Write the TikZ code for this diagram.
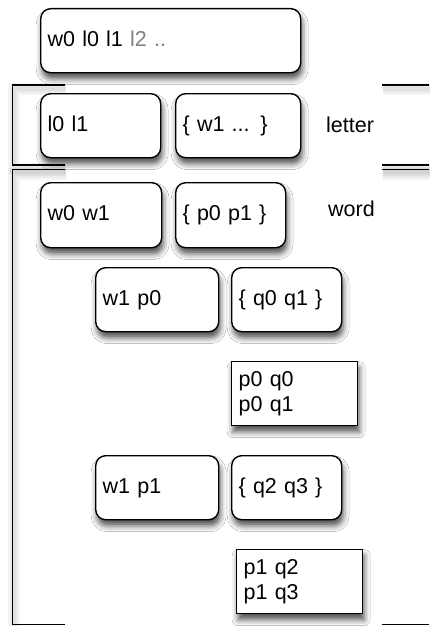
\documentclass[tikz,border=0pt]{standalone}
\usepackage{fontspec}
\setmainfont{Liberation Sans}
\usetikzlibrary{shadows.blur}
\tikzset{
  basebox/.style={draw=black, line width=1.4pt, fill=white, anchor=north west,
    inner xsep=7pt, inner ysep=0pt, align=left,
    font=\fontsize{21.5}{25}\selectfont,
    blur shadow={shadow xshift=1.5pt, shadow yshift=-6pt, shadow blur radius=6pt, shadow opacity=70}},
  rbox/.style={basebox, rounded corners=10pt, execute at begin node={\rule[-4.6pt]{0pt}{20pt}}},
  sbox/.style={basebox},
  lbl/.style={anchor=west, inner sep=0pt, font=\fontsize{21.5}{25}\selectfont},
  bracket/.style={draw=black, line width=1.4pt},
  bshadow/.style={draw=black, line width=7pt, opacity=0.04, yshift=-4pt, xshift=1pt}
}
\newcommand{\mkbox}[7]{%
  \node[#1, minimum width={#4-#2}, minimum height={#5-#3}, text width={#4-#2-14}] (#6) at (#2,#3) {#7};}
\begin{document}
\begin{tikzpicture}[x=1pt, y=-1pt]
\useasboundingbox (0,0) rectangle (429,626);
\fill[white] (0,0) rectangle (429,626);
% bracket shadows
\foreach \w in {4,8,12}{
  \draw[bshadow, line width=\w pt] (65,85) -- (12.5,85) -- (12.5,165) -- (65,165);
  \draw[bshadow, line width=\w pt] (382,85) -- (429,85);
  \draw[bshadow, line width=\w pt] (382,165) -- (429,165);
  \draw[bshadow, line width=\w pt] (65,169.5) -- (12.5,169.5) -- (12.5,624.5);
  \draw[bshadow, line width=\w pt] (382,169.5) -- (429,169.5);
}
% brackets
\draw[bracket] (65,85) -- (12.5,85) -- (12.5,165) -- (65,165);
\draw[bracket] (382,85) -- (429,85);
\draw[bracket] (382,165) -- (429,165);
\draw[bracket] (65,169.5) -- (12.5,169.5) -- (12.5,624.5) -- (65,624.5);
\draw[bracket] (382,169.5) -- (429,169.5);
\draw[bracket] (382,624.5) -- (429,624.5);
% boxes
\mkbox{rbox}{40}{8}{300}{72}{top}{w0 l0 l1 \textcolor{gray}{l2 ..}}
\mkbox{rbox}{40}{93}{160}{157}{l0l1}{l0 l1}
\mkbox{rbox}{175}{93}{300}{157}{w1dots}{\{ w1 ... \}}
\mkbox{rbox}{40}{182}{161}{247}{w0w1}{w0 w1}
\mkbox{rbox}{175}{182}{285}{247}{p0p1}{\{ p0 p1 \}}
\mkbox{rbox}{95}{267}{218}{331}{w1p0}{w1 p0}
\mkbox{rbox}{231}{267}{341}{331}{q0q1}{\{ q0 q1 \}}
\mkbox{sbox}{231}{361}{357}{425}{pq01}{p0 q0\\p0 q1}
\mkbox{rbox}{95}{455}{218}{519}{w1p1}{w1 p1}
\mkbox{rbox}{231}{455}{341}{519}{q23}{\{ q2 q3 \}}
\mkbox{sbox}{236}{549}{362}{613}{pq23}{p1 q2\\p1 q3}
% labels
\node[lbl] (letter) at (326,125) {letter};
\node[lbl] (word) at (328,209) {word};
\end{tikzpicture}
\end{document}
